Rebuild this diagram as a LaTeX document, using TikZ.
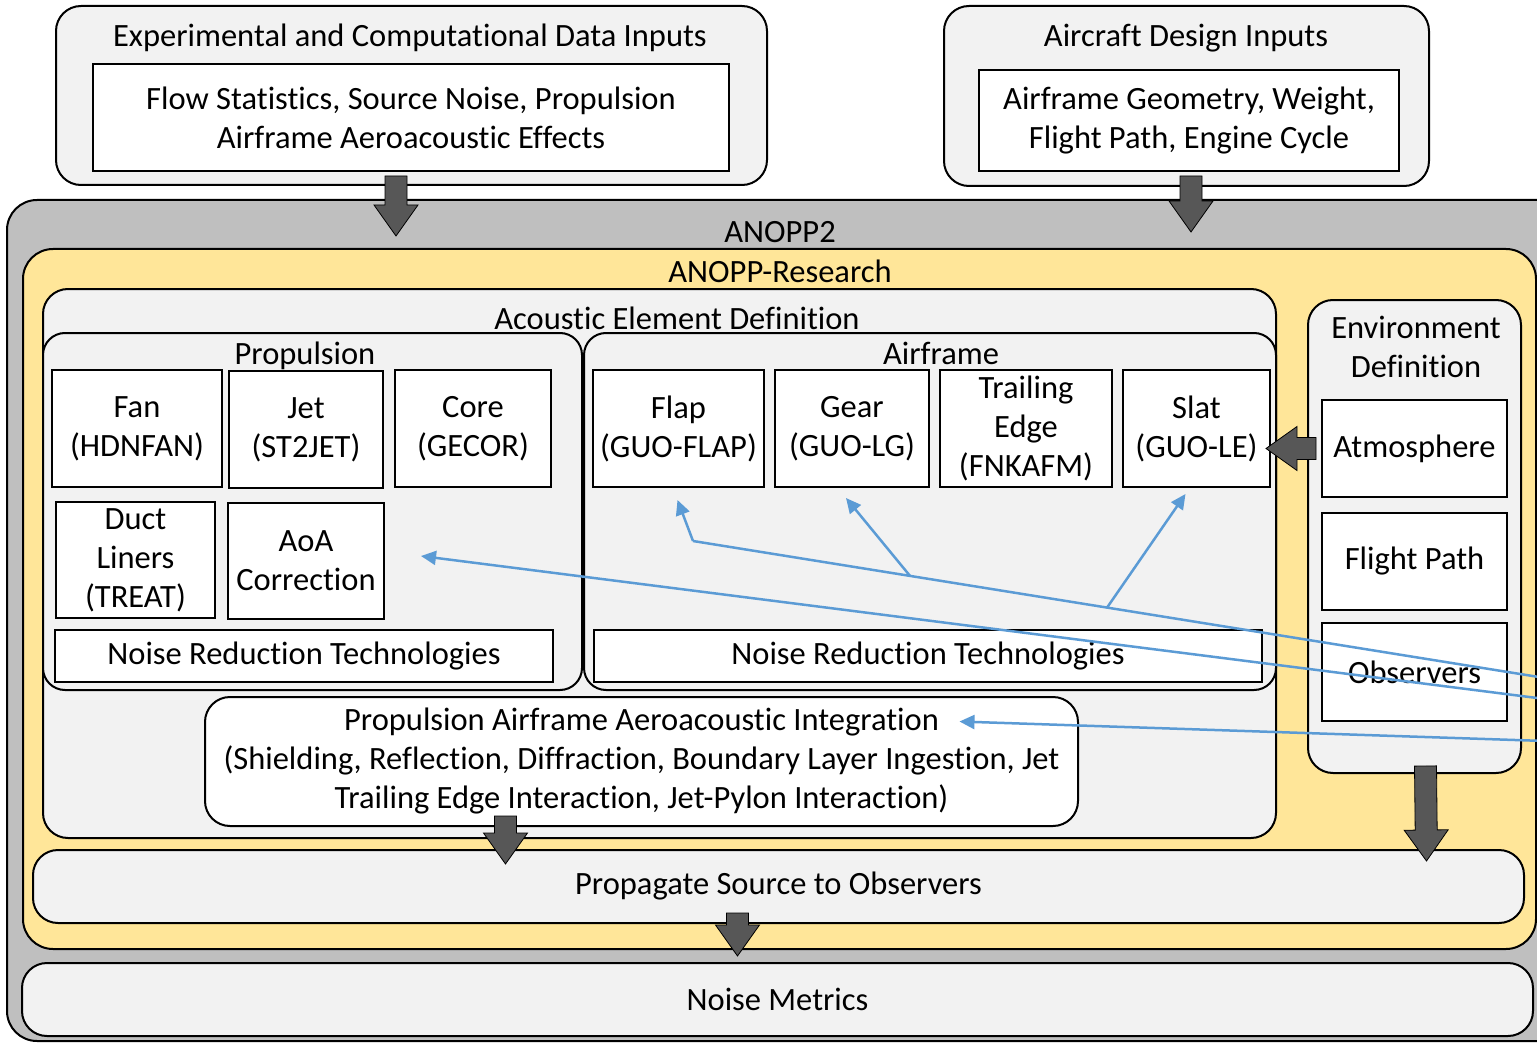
\documentclass[tikz,border=0pt]{standalone}
\usepackage{fontspec}
\setmainfont{Carlito}[Ligatures=NoCommon]
\usetikzlibrary{calc,arrows.meta}
\definecolor{lgrey}{HTML}{F2F2F2}
\definecolor{mgrey}{HTML}{BFBFBF}
\definecolor{ylw}{HTML}{FFE699}
\definecolor{dgrey}{HTML}{575757}
\definecolor{blu}{HTML}{5B9BD5}
\newcommand\fatarrow[2]{%
  \coordinate (fah) at ($(#2)!31pt!(#1)$);
  \draw[fatstyle] ($(#1)!11pt!90:(#2)$) -- ($(fah)!11pt!-90:(#1)$) -- ($(fah)!22pt!-90:(#1)$) -- (#2)
    -- ($(fah)!22pt!90:(#1)$) -- ($(fah)!11pt!90:(#1)$) -- ($(#1)!11pt!-90:(#2)$) -- cycle;}
\begin{document}
\begin{tikzpicture}[x=1pt,y=-1pt,
  every node/.style={font=\fontsize{32.5}{39}\selectfont},
  box/.style={draw=black, line width=2pt, inner sep=0pt, align=center},
  wbox/.style={box, fill=white},
  rbox/.style={box, rounded corners=25pt},
  area/.style n args={4}{minimum width={(#3-#1)*1pt}, minimum height={(#4-#2)*1pt}, at={({(#1+#3)/2},{(#2+#4)/2})}},
  ttl/.style={anchor=base, inner sep=0pt},
  fatstyle/.style={fill=dgrey, draw=black, line width=0.8pt, line join=miter},
  bl/.style={draw=blu, line width=2.5pt},
  bla/.style={bl, -{Triangle[length=15pt,width=14pt]}}]
\useasboundingbox (0,0) rectangle (1537,1043);
\fill[white] (0,0) rectangle (1537,1043);
\clip (0,0) rectangle (1537,1043);
% top input boxes
\node[rbox, fill=lgrey, area={56}{6}{767}{185}] (expin) {};
\node[ttl] (expt) at (410,47) {Experimental and Computational Data Inputs};
\node[wbox, area={93}{64}{729}{171}] (flow) {Flow Statistics, Source Noise, Propulsion\\Airframe Aeroacoustic Effects};
\node[rbox, fill=lgrey, area={944}{6}{1429}{186}] (desin) {};
\node[ttl] (dest) at (1186,47) {Aircraft Design Inputs};
\node[wbox, area={979}{70}{1399}{171}] (design) {Airframe Geometry, Weight,\\Flight Path, Engine Cycle};
% ANOPP2
\node[rbox, fill=mgrey, rounded corners=30pt, area={7}{200}{1570}{1041}] (anopp) {};
\node[ttl] (anoppt) at (780,243) {ANOPP2};
\node[rbox, fill=ylw, rounded corners=30pt, area={23}{249}{1536}{949}] (res) {};
\node[ttl] (rest) at (780,282) {ANOPP-Research};
\node[rbox, fill=lgrey, area={43}{289}{1276}{838}] (aed) {};
\node[ttl] (aedt) at (677,329) {Acoustic Element Definition};
\node[rbox, fill=lgrey, rounded corners=22pt, area={43}{333}{582}{690}] (prop) {};
\node[ttl] (propt) at (305,364) {Propulsion};
\node[rbox, fill=lgrey, rounded corners=22pt, area={584}{333}{1276}{690}] (air) {};
\node[ttl] (airt) at (941,364) {Airframe};
% propulsion elements
\node[wbox, area={52}{370}{222}{487}] (fan) {Fan\\(HDNFAN)};
\node[wbox, area={229}{371}{383}{488}] (jet) {Jet\\(ST2JET)};
\node[wbox, area={395}{370}{551}{487}] (core) {Core\\(GECOR)};
\node[wbox, area={56}{502}{215}{618}] (duct) {Duct\\Liners\\(TREAT)};
\node[wbox, area={228}{503}{384}{619}] (aoa) {AoA\\Correction};
\node[wbox, area={55}{630}{553}{682}] (nrtp) {Noise Reduction Technologies};
% airframe elements
\node[wbox, area={593}{370}{764}{487}] (flap) {Flap\\(GUO-FLAP)};
\node[wbox, area={775}{370}{929}{487}] (gear) {Gear\\(GUO-LG)};
\node[wbox, area={940}{370}{1112}{487}] (te) {Trailing\\Edge\\(FNKAFM)};
\node[wbox, area={1123}{370}{1270}{487}] (slat) {Slat\\(GUO-LE)};
\node[wbox, area={594}{630}{1262}{682}] (nrta) {Noise Reduction Technologies};
% integration
\node[rbox, fill=white, area={205}{697}{1078}{826}] (paai) {Propulsion Airframe Aeroacoustic Integration\\(Shielding, Reflection, Diffraction, Boundary Layer Ingestion, Jet\\Trailing Edge Interaction, Jet-Pylon Interaction)};
% environment
\node[rbox, fill=lgrey, area={1308}{300}{1521}{773}] (env) {};
\node[align=center, inner sep=0pt] (envt) at (1416,347) {Environment\\Definition};
\node[wbox, area={1322}{400}{1507}{497}] (atm) {Atmosphere};
\node[wbox, area={1322}{513}{1507}{610}] (fp) {Flight Path};
\node[wbox, area={1322}{623}{1507}{721}] (obs) {Observers};
% propagate / metrics
\node[rbox, fill=lgrey, area={33}{850}{1524}{923}] (propag) {Propagate Source to Observers};
\node[rbox, fill=lgrey, area={22}{963}{1533}{1036}] (metrics) {Noise Metrics};
% fat arrows
\coordinate (a1s) at ($(flow.south)+(-15,4)$);
\coordinate (a1e) at ($(a1s)+(0,60)$);
\fatarrow{a1s}{a1e}
\coordinate (a2s) at ($(design.south)+(2,4)$);
\coordinate (a2e) at ($(a2s)+(0,56)$);
\fatarrow{a2s}{a2e}
\coordinate (a3s) at ($(paai.south)+(-136,-11)$);
\coordinate (a3e) at ($(propag.north)+(-273,15)$);
\fatarrow{a3s}{a3e}
\coordinate (a4s) at ($(env.south)+(11,-8)$);
\coordinate (a4e) at ($(propag.north)+(648,12)$);
\fatarrow{a4s}{a4e}
\coordinate (a5s) at ($(propag.south)+(-41,-11)$);
\coordinate (a5e) at ($(metrics.north)+(-40,-6)$);
\fatarrow{a5s}{a5e}
\coordinate (a6s) at ($(atm.west)+(-5,0)$);
\coordinate (a6e) at ($(slat.east |- atm.west)+(-5,0)$);
\fatarrow{a6s}{a6e}
% blue connectors
\coordinate (inA) at (1545,678);
\coordinate (inB) at (1545,699);
\coordinate (inC) at (1545,741);
\coordinate (cornA) at (693,541);
\coordinate (brG) at ($(cornA)!0.2547!(inA)$);
\coordinate (brS) at ($(cornA)!0.486!(inA)$);
\draw[bl] (inA) -- (cornA);
\draw[bla] (cornA) -- ($(flap.south)+(-1,12)$);
\draw[bla] (brG) -- ($(gear.south)+(-6,10)$);
\draw[bla] (brS) -- ($(slat.south)+(-11,6)$);
\draw[bla] (inB) -- ($(aoa.east)+(36,-5)$);
\draw[bla] (inC) -- ($(paai.center)+(318,-40)$);
\end{tikzpicture}
\end{document}
